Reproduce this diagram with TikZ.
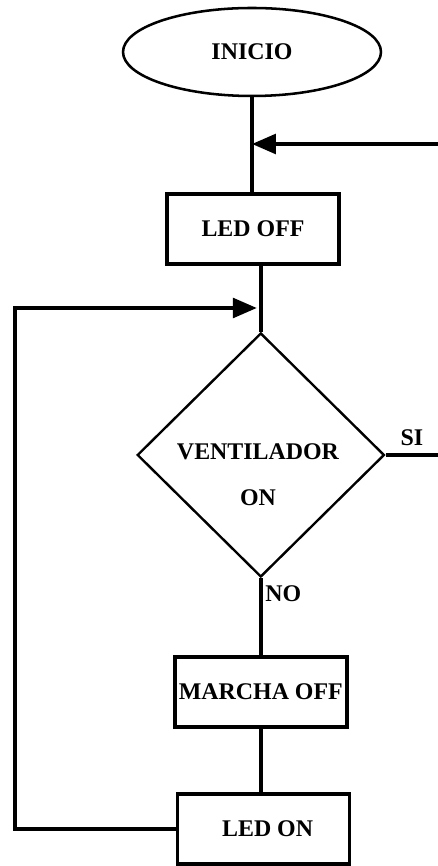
\documentclass[tikz,border=0pt]{standalone}
\usepackage{fontspec}
\setmainfont{Liberation Serif}
\usetikzlibrary{shapes.geometric,arrows.meta}

\begin{document}
\begin{tikzpicture}[line join=miter,
    txt/.style={font=\bfseries\fontsize{17}{20}\selectfont},
    startstop/.style={txt, draw, ellipse, line width=1.8pt, minimum width=6.45cm, minimum height=2.2cm, inner sep=0pt},
    process/.style={txt, draw, rectangle, line width=2.6pt, minimum width=4.3cm, minimum height=1.75cm, inner sep=1pt},
    decision/.style={draw, diamond, line width=1.7pt, minimum width=6.18cm, minimum height=6.1cm, inner sep=0pt},
    flow/.style={line width=2.5pt},
    tip/.style={flow, -{Triangle[length=17pt, width=14pt]}}]
    \useasboundingbox (0,0) rectangle (10.95,21.65);
    % blocks
    \node[startstop] (inicio) at (6.30, 20.35) {INICIO};
    \node[process] (ledoff) at (6.325, 15.925) {LED OFF};
    \node[decision] (vent) at (6.52, 10.275) {};
    \node[txt, align=center] (venttxt) at (6.45, 9.775) {VENTILADOR\\[0.45cm]ON};
    \node[process] (marcha) at (6.52, 4.35) {MARCHA OFF};
    \node[process] (ledon) at (6.59, 0.925) {\hspace{0.2cm}LED ON};
    % free ends and joins
    \coordinate (retin) at (10.95, 18.05);
    \coordinate (siout) at (10.95, 10.275);
    \coordinate (loopc) at (0.375, 13.95);
    % connectors
    \draw[flow] (inicio.south) -- (inicio.south |- ledoff.north);
    \draw[tip] (retin) -- (inicio.south |- retin);
    \draw[flow] (vent.north |- ledoff.south) -- (vent.north);
    \draw[flow] (vent.east) -- node[txt, above, inner sep=5pt] (si) {SI} (siout);
    \draw[flow] (vent.south) -- node[txt, pos=0.2, right, inner sep=2pt] (no) {NO} (vent.south |- marcha.north);
    \draw[flow] (marcha.south) -- (marcha.south |- ledon.north);
    \draw[tip] (ledon.west) -| (loopc) -- ([xshift=-0.1cm]vent.north |- loopc);
    \draw[flow] (vent.north |- loopc) -- (vent.north);
\end{tikzpicture}
\end{document}
